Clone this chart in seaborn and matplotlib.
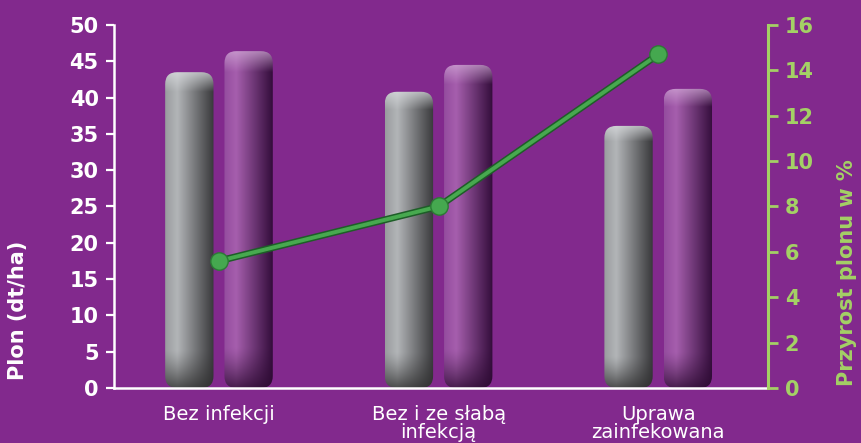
import numpy as np
import pandas as pd
import matplotlib
matplotlib.use("Agg")
import matplotlib.pyplot as plt
from matplotlib.patches import FancyBboxPatch
from matplotlib.ticker import FixedLocator
import seaborn as sns

#===============================================================
#         PLON I PRZYROST PLONU - WYKRES SŁUPKOWY + LINIA
#===============================================================

# Data
categories = ["Bez infekcji", "Bez i ze słabą\ninfekcją", "Uprawa\nzainfekowana"]
series_names = ["Kontrola", "Wariant"]
yield_gray = [43.5, 40.8, 36.1]
yield_purple = [46.4, 44.5, 41.2]
gain_pct = [5.6, 8.0, 14.7]

# Colours
BG = "#82298D"
WHITE = "#FFFFFF"
GREEN_AXIS = "#A4D065"
LINE_DARK = "#1E5E28"
LINE_GREEN = "#47A94F"

sns.set_style("white")
plt.rcParams["font.family"] = ["DejaVu Sans"]

df = pd.DataFrame({
    "kategoria": categories * 2,
    "seria": [series_names[0]] * 3 + [series_names[1]] * 3,
    "plon": yield_gray + yield_purple,
})
df_line = pd.DataFrame({"pos": np.arange(len(categories)), "przyrost": gain_pct})

XLIM = (-0.478, 2.5)

fig = plt.figure(figsize=(8.62, 4.43), dpi=100, facecolor=BG)
ax = fig.add_axes([114 / 862, 0.1242, 654 / 862, 0.8194])
ax.set_facecolor(BG)

sns.barplot(
    data=df, x="kategoria", y="plon", hue="seria",
    palette=["#A0A2A5", "#9A4CA3"], width=0.54, gap=0.185,
    legend=False, ax=ax, zorder=2,
)
ax.set_xlim(*XLIM)
ax.set_ylim(0, 50)


def shade(kind, n=200):
    """Cylinder-like shading for a bar (rows top->bottom, cols left->right)."""
    u = np.linspace(0, 1, n)
    v = np.linspace(0, 1, n)
    if kind == 0:
        left, peak, right = np.array([0.60, 0.61, 0.62]), np.array([0.70, 0.71, 0.72]), np.array([0.22, 0.22, 0.23])
        top_col, bot_col = np.array([0.86, 0.87, 0.88]), np.array([0.18, 0.18, 0.18])
    else:
        left, peak, right = np.array([0.58, 0.30, 0.62]), np.array([0.65, 0.37, 0.68]), np.array([0.20, 0.05, 0.23])
        top_col, bot_col = np.array([0.82, 0.66, 0.84]), np.array([0.17, 0.04, 0.19])
    prof = np.where(u < 0.25, u / 0.25, 1 - (u - 0.25) / 0.75)[:, None]
    row = np.where(u[:, None] < 0.25,
                   left + (peak - left) * prof,
                   right + (peak - right) * prof)
    img = np.repeat(row[None, :, :], n, axis=0)
    # light cap on top, dark foot at the bottom
    top_w = np.clip(1 - v / 0.06, 0, 1)[:, None, None] * 0.7
    bot_w = np.clip((v - 0.88) / 0.12, 0, 1)[:, None, None] ** 1.3 * 0.75
    img = img * (1 - top_w) + top_col * top_w
    img = img * (1 - bot_w) + bot_col * bot_w
    return np.clip(img, 0, 1)


fig.canvas.draw()
px_x = ax.transData.transform((1, 0))[0] - ax.transData.transform((0, 0))[0]
px_y = ax.transData.transform((0, 1))[1] - ax.transData.transform((0, 0))[1]
aspect = px_x / px_y
radius = 12 / px_x

bars = list(ax.patches)
for i, bar in enumerate(bars):
    kind = 0 if i < len(categories) else 1
    x0, w, h = bar.get_x(), bar.get_width(), bar.get_height()
    bar.set_visible(False)
    box = FancyBboxPatch(
        (x0, 0), w, h,
        boxstyle=f"round,pad=0,rounding_size={radius}",
        mutation_aspect=aspect, facecolor="none", edgecolor="none",
        transform=ax.transData, zorder=2,
    )
    ax.add_patch(box)
    im = ax.imshow(shade(kind), extent=(x0, x0 + w, 0, h), aspect="auto",
                   origin="upper", zorder=2, interpolation="bilinear")
    im.set_clip_path(box)

ax.set_xlim(*XLIM)
ax.set_ylim(0, 50)

# Left axis styling
for side in ["top", "right"]:
    ax.spines[side].set_visible(False)
for side in ["left", "bottom"]:
    ax.spines[side].set_color(WHITE)
    ax.spines[side].set_linewidth(1.8)
ax.set_yticks(np.arange(0, 51, 5))
ax.tick_params(axis="y", colors=WHITE, length=6, width=1.6, pad=5, labelsize=15)
for lab in ax.get_yticklabels():
    lab.set_fontweight("bold")
ax.tick_params(axis="x", which="major", length=0, pad=12, labelsize=14, labelcolor=WHITE)
ax.xaxis.set_minor_locator(FixedLocator([0.5, 1.5]))
ax.tick_params(axis="x", which="minor", direction="inout", length=12, width=1.6, color=WHITE)
for lab in ax.get_xticklabels():
    lab.set_linespacing(0.95)
ax.set_xlabel("")
ax.set_ylabel("Plon (dt/ha)", color=WHITE, fontsize=15, fontweight="bold")
ax.yaxis.set_label_coords(-0.131, 0.215)

# Right axis: yield gain
ax2 = ax.twinx()
ax2.set_ylim(0, 16)
sns.lineplot(data=df_line, x="pos", y="przyrost", ax=ax2, color=LINE_DARK,
             linewidth=5.0, zorder=3)
sns.lineplot(data=df_line, x="pos", y="przyrost", ax=ax2, color=LINE_GREEN,
             linewidth=2.8, marker="o", markersize=12.5,
             markerfacecolor="#45A84F", markeredgecolor="#2C7A35",
             markeredgewidth=1.0, zorder=4)
ax2.set_xlim(*XLIM)
for side in ["top", "left", "bottom"]:
    ax2.spines[side].set_visible(False)
ax2.spines["right"].set_color(GREEN_AXIS)
ax2.spines["right"].set_linewidth(2.2)
ax2.set_yticks(np.arange(0, 17, 2))
ax2.tick_params(axis="y", colors=GREEN_AXIS, length=7, width=2, pad=5, labelsize=15)
for lab in ax2.get_yticklabels():
    lab.set_fontweight("bold")
ax2.set_ylabel("Przyrost plonu w %", color=GREEN_AXIS, fontsize=15,
               fontweight="bold", rotation=90)
ax2.yaxis.set_label_coords(1.106, 0.317)

fig.savefig("out.png", dpi=100, facecolor=BG)
